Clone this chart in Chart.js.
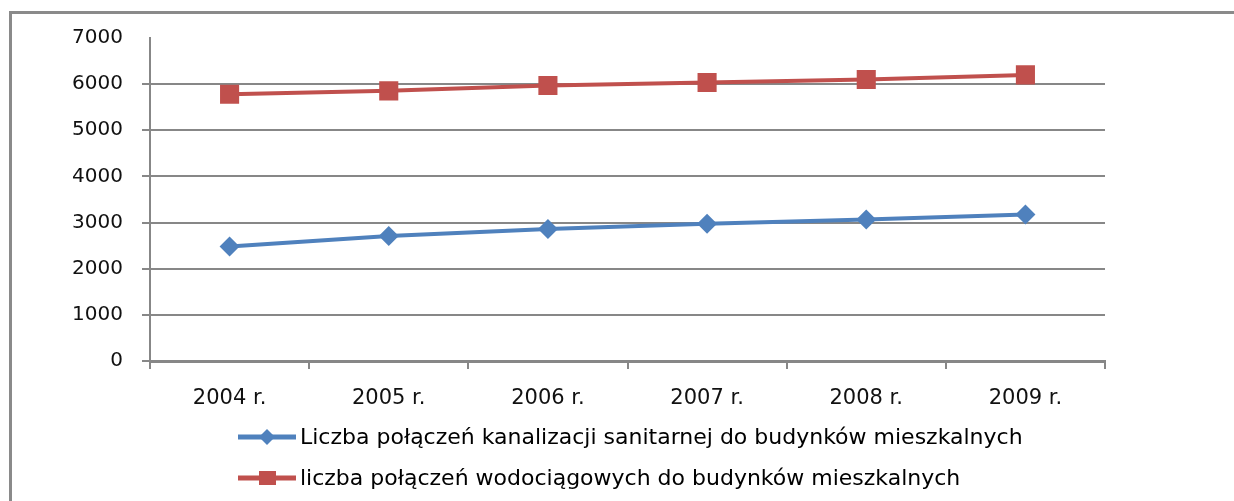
<!DOCTYPE html>
<html>
<head>
<meta charset="utf-8">
<script src="https://cdn.jsdelivr.net/npm/chart.js@4/dist/chart.umd.min.js"></script>
<style>
  body { margin: 0; background: #fff; }
  #wrap { position: relative; width: 1234px; height: 501px; overflow: hidden; }
  #frame {
    position: absolute; left: 9px; top: 11px; width: 1260px; height: 520px;
    border: 3px solid #8a8a8a; pointer-events: none;
  }
</style>
</head>
<body>
<div id="wrap">
  <canvas id="myChart" width="1234" height="501"></canvas>
  <div id="frame"></div>
</div>
<script>
'use strict';

var years = ['2004 r.', '2005 r.', '2006 r.', '2007 r.', '2008 r.', '2009 r.'];
var kanalizacja = [2480, 2710, 2860, 2975, 3065, 3175];
var wodociagi = [5780, 5855, 5970, 6035, 6100, 6200];
var yMin = 0;
var yMax = 7000;
var yStep = 1000;

var seriesNames = [
  'Liczba połączeń kanalizacji sanitarnej do budynków mieszkalnych',
  'liczba połączeń wodociągowych do budynków mieszkalnych'
];

var blue = '#4f81bd';
var red = '#c0504d';
var gridGray = '#878787';

// legend drawn by hand, one row per series
var legendPlugin = {
  id: 'rowLegend',
  afterDraw: function(chart) {
    var ctx = chart.ctx;
    var rows = [437, 478];
    ctx.save();
    chart.data.datasets.forEach(function(ds, i) {
      var y = rows[i];
      ctx.strokeStyle = ds.borderColor;
      ctx.lineWidth = 5;
      ctx.beginPath();
      ctx.moveTo(238, y);
      ctx.lineTo(296, y);
      ctx.stroke();
      ctx.fillStyle = ds.borderColor;
      ctx.beginPath();
      if (ds.pointStyle === 'rectRot') {
        ctx.moveTo(267, y - 8);
        ctx.lineTo(275, y);
        ctx.lineTo(267, y + 8);
        ctx.lineTo(259, y);
      } else {
        ctx.rect(259, y - 7, 17, 14);
      }
      ctx.closePath();
      ctx.fill();
      ctx.fillStyle = '#000';
      ctx.font = '22px "DejaVu Sans", sans-serif';
      ctx.textBaseline = 'middle';
      ctx.fillText(ds.label, 300, y + 1);
    });
    ctx.restore();
  }
};

var ctx = document.getElementById('myChart').getContext('2d');
var chart = new Chart(ctx, {
  type: 'line',
  data: {
    labels: years,
    datasets: [
      {
        label: seriesNames[0],
        data: kanalizacja,
        borderColor: blue,
        backgroundColor: blue,
        borderWidth: 4,
        pointStyle: 'rectRot',
        pointRadius: 10,
        pointBorderWidth: 0,
        tension: 0
      },
      {
        label: seriesNames[1],
        data: wodociagi,
        borderColor: red,
        backgroundColor: red,
        borderWidth: 4,
        pointStyle: 'rect',
        pointRadius: 13.5,
        pointBorderWidth: 0,
        tension: 0
      }
    ]
  },
  options: {
    responsive: false,
    animation: false,
    layout: { padding: { left: 10, right: 129, top: 38, bottom: 90 } },
    plugins: {
      legend: { display: false },
      tooltip: { enabled: false }
    },
    scales: {
      x: {
        offset: true,
        grid: {
          offset: true,
          drawOnChartArea: false,
          drawTicks: true,
          tickLength: 8,
          color: gridGray,
          lineWidth: 2
        },
        border: { display: true, color: gridGray, width: 3 },
        ticks: {
          color: '#111',
          padding: 17,
          maxRotation: 0,
          font: { family: '"DejaVu Sans", sans-serif', size: 21 }
        },
        afterFit: function(scale) { scale.height = 50; }
      },
      y: {
        min: yMin,
        max: yMax,
        grid: {
          tickLength: 8,
          lineWidth: 2,
          color: function(c) {
            return c.tick && c.tick.value === yMax ? 'rgba(0,0,0,0)' : gridGray;
          }
        },
        border: { display: true, color: gridGray, width: 2 },
        ticks: {
          stepSize: yStep,
          color: '#111',
          padding: 19,
          font: { family: '"DejaVu Sans", sans-serif', size: 20 },
          callback: function(v) { return String(v); }
        },
        afterFit: function(scale) { scale.width = 140; }
      }
    }
  },
  plugins: [legendPlugin]
});
</script>
</body>
</html>
